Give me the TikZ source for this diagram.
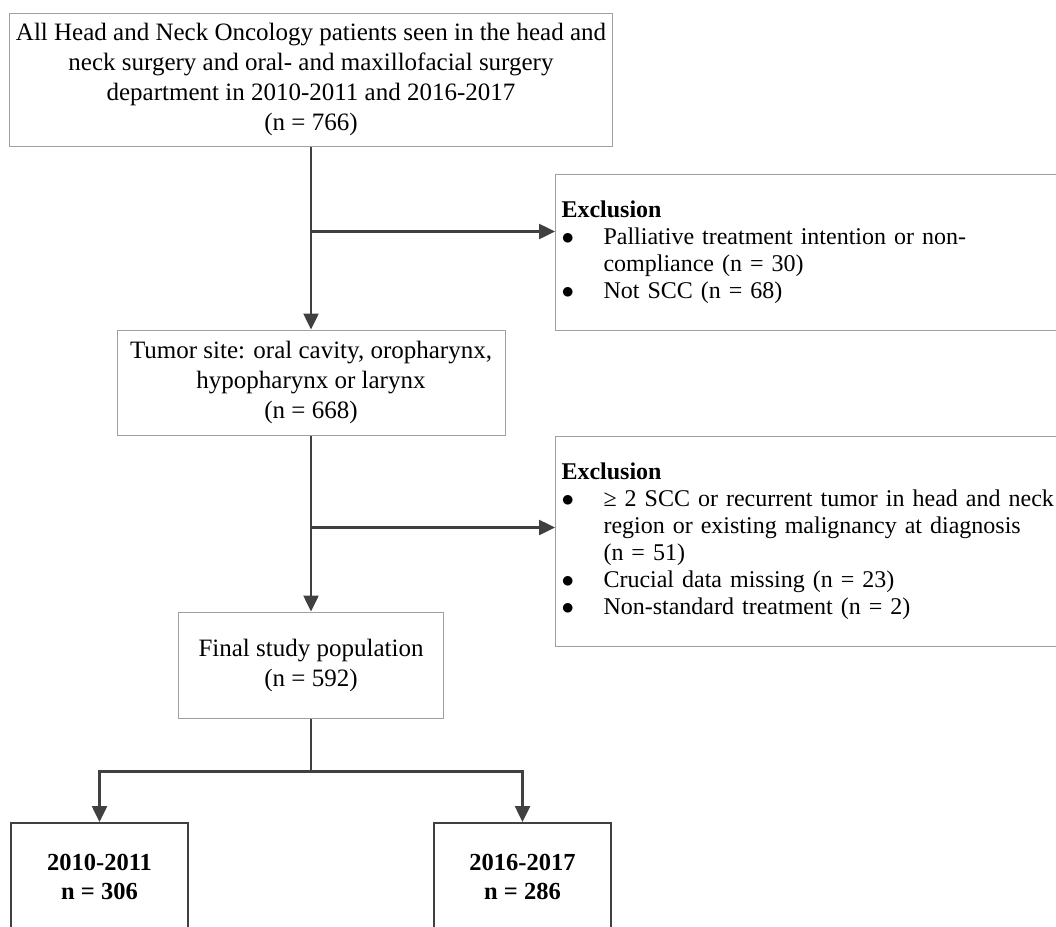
\documentclass[tikz,border=0pt]{standalone}
\usepackage{fontspec}
\setmainfont{Liberation Serif}
\usepackage{tikz}
\usetikzlibrary{arrows.meta,positioning,calc}
\definecolor{linegray}{HTML}{404040}
\definecolor{boxgray}{HTML}{A0A0A0}

\begin{document}
\begin{tikzpicture}[x=1pt,y=-1pt,
  box/.style={draw=boxgray, line width=1pt, align=center, inner sep=0pt, font=\fontsize{25}{30}\selectfont},
  excl/.style={draw=boxgray, line width=1pt, anchor=north west, text width=508pt, inner xsep=6pt, inner ysep=24pt, font=\fontsize{24}{27}\selectfont},
  period/.style={draw=linegray, line width=2pt, align=center, minimum width=177pt, minimum height=107pt, font=\fontsize{24.5}{29}\selectfont\bfseries},
  flow/.style={draw=linegray, line width=2.5pt, -{Triangle[length=16pt,width=15pt]}},
  trunk/.style={draw=linegray, line width=2.5pt}]
\useasboundingbox (0,0) rectangle (1056,926);
\clip (0,0) rectangle (1056,926);

% main flow
\node[box, minimum width=603pt, minimum height=133pt] (all) at (311,79.5) {All Head and Neck Oncology patients seen in the head and\\ neck surgery and oral- and maxillofacial surgery\\ department in 2010-2011 and 2016-2017\\ (n = 766)};
\node[box, minimum width=388pt, minimum height=105pt] (site) at (311,382.5) {Tumor site: oral cavity, oropharynx,\\ hypopharynx or larynx\\ (n = 668)};
\node[box, minimum width=265pt, minimum height=106pt] (final) at (311,665) {Final study population\\ (n = 592)};

% exclusions
\node[excl] (excl1) at (555,174) {\noindent\begin{tabular}{@{}p{42pt}@{}l@{}}
\multicolumn{2}{@{}l@{}}{\textbf{Exclusion}}\\
$\bullet$ & Palliative treatment intention or non-\\
 & compliance (n = 30)\\
$\bullet$ & Not SCC (n = 68)
\end{tabular}};
\node[excl] (excl2) at (555,436) {\noindent\begin{tabular}{@{}p{42pt}@{}l@{}}
\multicolumn{2}{@{}l@{}}{\textbf{Exclusion}}\\
$\bullet$ & ≥ 2 SCC or recurrent tumor in head and neck\\
 & region or existing malignancy at diagnosis\\
 & (n = 51)\\
$\bullet$ & Crucial data missing (n = 23)\\
$\bullet$ & Non-standard treatment (n = 2)
\end{tabular}};

% periods
\node[period] (early) at (99.5,876.5) {2010-2011\\ n = 306};
\node[period] (late) at (522.5,876.5) {2016-2017\\ n = 286};

% arrows
\coordinate (split1) at ([yshift=-85pt]all.south);
\coordinate (split2) at ([yshift=-92pt]site.south);
\coordinate (fork) at ([yshift=-53pt]final.south);
\draw[flow] (all) -- (site);
\draw[flow] (split1) -- (split1 -| excl1.west);
\draw[flow] (site) -- (final);
\draw[flow] (split2) -- (split2 -| excl2.west);
\draw[trunk] (final) -- (fork);
\draw[flow] (fork) -| (early);
\draw[flow] (fork) -| (late);
\end{tikzpicture}
\end{document}
